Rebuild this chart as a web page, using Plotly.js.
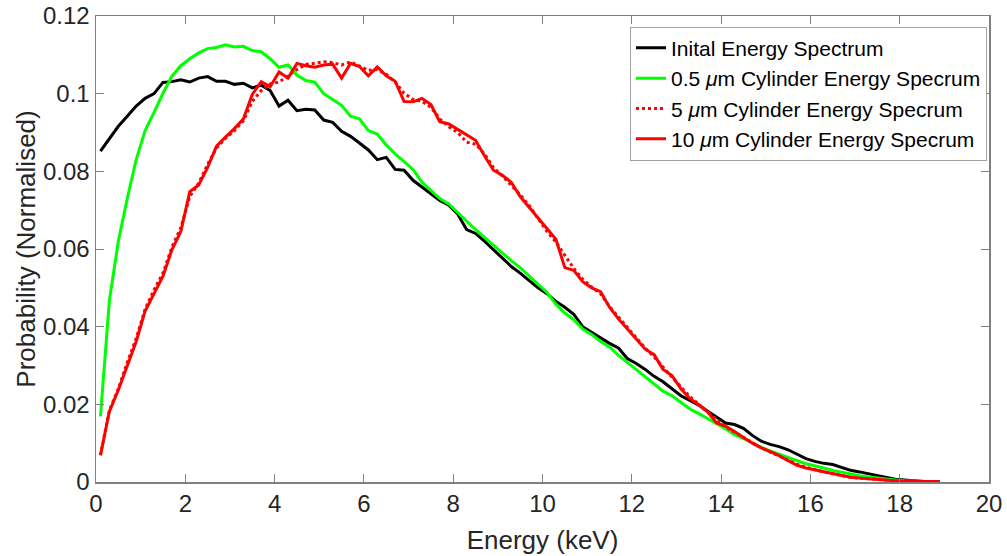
<!DOCTYPE html>
<html>
<head>
<meta charset="utf-8">
<script src="https://cdn.plot.ly/plotly-3.0.1.min.js"></script>
<style>html,body{margin:0;padding:0;background:#fff;}#chart{width:1007px;height:556px;}</style>
</head>
<body>
<div id="chart"></div>
<script>
// Energy bins (keV)
var energy = [0.1,0.3,0.5,0.7,0.9,1.1,1.3,1.5,1.7,1.9,2.1,2.3,2.5,2.7,2.9,3.1,3.3,3.5,3.7,3.9,
  4.1,4.3,4.5,4.7,4.9,5.1,5.3,5.5,5.7,5.9,6.1,6.3,6.5,6.7,6.9,7.1,7.3,7.5,7.7,7.9,
  8.1,8.3,8.5,8.7,8.9,9.1,9.3,9.5,9.7,9.9,10.1,10.3,10.5,10.7,10.9,11.1,11.3,11.5,11.7,11.9,
  12.1,12.3,12.5,12.7,12.9,13.1,13.3,13.5,13.7,13.9,14.1,14.3,14.5,14.7,14.9,15.1,15.3,15.5,15.7,15.9,
  16.1,16.3,16.5,16.7,16.9,17.1,17.3,17.5,17.7,17.9,18.1,18.3,18.5,18.7,18.9];

var initialSpectrum = [.0852,.0885,.0916,.0942,.0968,.0988,.1000,.1029,.1031,.1036,.1030,.1040,.1044,.1032,.1032,.1024,.1027,.1015,.1022,.1008,
  .0968,.0983,.0956,.0960,.0958,.0932,.0926,.0903,.0890,.0873,.0855,.0830,.0836,.0805,.0803,.0777,.0760,.0742,.0725,.0713,
  .0690,.0650,.0640,.0620,.0598,.0575,.0555,.0538,.0520,.0500,.0485,.0465,.0450,.0432,.0400,.0385,.0372,.0357,.0345,.0318,
  .0305,.0290,.0272,.0258,.0240,.0222,.0210,.0198,.0182,.0167,.0152,.0148,.0138,.0120,.0105,.0097,.0091,.0083,.0072,.0060,
  .0053,.0048,.0045,.0038,.0030,.0026,.0021,.0016,.0011,.0007,.0005,.0003,.0001,0,0];

var cyl05 = [.0169,.0468,.0620,.0730,.0830,.0905,.0952,.1001,.1045,.1072,.1090,.1105,.1116,.1119,.1126,.1120,.1122,.1111,.1108,.1090,
  .1068,.1074,.1048,.1034,.1030,.1000,.0985,.0970,.0942,.0935,.0905,.0896,.0868,.0845,.0825,.0805,.0772,.0750,.0730,.0716,
  .0695,.0672,.0650,.0630,.0608,.0588,.0570,.0552,.0530,.0510,.0488,.0458,.0435,.0418,.0394,.0380,.0362,.0348,.0326,.0308,
  .0290,.0270,.0252,.0234,.0222,.0204,.0188,.0176,.0162,.0150,.0137,.0122,.0112,.0100,.0089,.0080,.0071,.0064,.0055,.0047,
  .0042,.0036,.0030,.0025,.0020,.0016,.0013,.0010,.0008,.0005,.0003,.0002,.0001,0,0];

var cyl5 = [.0069,.0185,.0240,.0308,.0370,.0445,.0495,.0538,.0605,.0655,.0735,.0770,.0818,.0860,.0885,.0905,.0930,.0980,.1008,.1025,
  .1030,.1046,.1062,.1075,.1078,.1082,.1080,.1074,.1082,.1072,.1060,.1062,.1050,.1030,.1001,.0985,.0980,.0965,.0935,.0915,
  .0900,.0875,.0870,.0845,.0810,.0788,.0765,.0740,.0712,.0680,.0645,.0618,.0585,.0550,.0522,.0502,.0485,.0452,.0425,.0398,
  .0370,.0345,.0322,.0295,.0270,.0245,.0220,.0200,.0180,.0160,.0142,.0128,.0114,.0100,.0088,.0077,.0066,.0056,.0046,.0038,
  .0031,.0026,.0021,.0016,.0012,.0010,.0008,.0006,.0004,.0003,.0002,.0002,.0001,.0001,.0001];

var cyl10 = [.0069,.0182,.0237,.0302,.0362,.0440,.0485,.0530,.0598,.0645,.0748,.0765,.0810,.0865,.0888,.0910,.0935,.0998,.1031,.1018,
  .1056,.1040,.1078,.1072,.1068,.1074,.1076,.1040,.1078,.1070,.1046,.1069,.1046,.1032,.0980,.0979,.0988,.0972,.0928,.0922,
  .0908,.0893,.0880,.0840,.0803,.0790,.0772,.0735,.0708,.0680,.0652,.0625,.0552,.0545,.0516,.0500,.0490,.0450,.0420,.0395,
  .0368,.0342,.0328,.0290,.0274,.0240,.0215,.0199,.0180,.0152,.0144,.0130,.0115,.0100,.0088,.0078,.0068,.0055,.0043,.0036,
  .0031,.0026,.0021,.0016,.0012,.0010,.0008,.0006,.0004,.0003,.0002,.0002,.0001,.0001,.0001];

var seriesNames = ['Inital Energy Spectrum', '0.5 <i>μ</i>m Cylinder Energy Specrum',
  '5 <i>μ</i>m Cylinder Energy Specrum', '10 <i>μ</i>m Cylinder Energy Specrum'];

var xTicks = [0,2,4,6,8,10,12,14,16,18,20];
var yTicks = [0,0.02,0.04,0.06,0.08,0.1,0.12];
var yTickText = ['0','0.02','0.04','0.06','0.08','0.1','0.12'];

var traces = [
  {x: energy, y: initialSpectrum, name: seriesNames[0], mode: 'lines', line: {color: '#000000', width: 3}},
  {x: energy, y: cyl05, name: seriesNames[1], mode: 'lines', line: {color: '#00ff00', width: 3}},
  {x: energy, y: cyl5, name: seriesNames[2], mode: 'lines', line: {color: '#ff0000', width: 3, dash: 'dot'}},
  {x: energy, y: cyl10, name: seriesNames[3], mode: 'lines', line: {color: '#ff0000', width: 3}}
];

var fam = 'Arial, "Liberation Sans", sans-serif';
var axisFont = {family: fam, size: 24, color: '#262626'};

var layout = {
  width: 1007, height: 556,
  margin: {l: 96, r: 18, t: 16, b: 74},
  paper_bgcolor: '#ffffff', plot_bgcolor: '#ffffff',
  showlegend: true,
  font: {family: fam, color: '#262626'},
  xaxis: {
    range: [0, 20], tickvals: xTicks, ticktext: xTicks.map(String),
    showgrid: false, zeroline: false, showline: true, mirror: 'ticks',
    linecolor: '#808080', linewidth: 1.5, ticks: 'inside', ticklen: 8, tickcolor: '#808080', tickwidth: 1,
    tickfont: axisFont,
    title: {text: 'Energy (keV)', font: {family: fam, size: 26, color: '#262626'}, standoff: 14}
  },
  yaxis: {
    range: [0, 0.12], tickvals: yTicks, ticktext: yTickText,
    showgrid: false, zeroline: false, showline: true, mirror: 'ticks',
    linecolor: '#808080', linewidth: 1.5, ticks: 'inside', ticklen: 8, tickcolor: '#808080', tickwidth: 1,
    tickfont: axisFont,
    title: {text: 'Probability (Normalised)', font: {family: fam, size: 26, color: '#262626'}, standoff: 0}
  },
  legend: {
    x: 0.598, y: 0.977, xanchor: 'left', yanchor: 'top',
    bgcolor: '#ffffff', bordercolor: '#a0a0a0', borderwidth: 1,
    font: {family: fam, size: 21, color: '#000000'},
    itemwidth: 30, tracegroupgap: 0
  }
};

Plotly.newPlot('chart', traces, layout, {displayModeBar: false, staticPlot: true});
</script>
</body>
</html>
